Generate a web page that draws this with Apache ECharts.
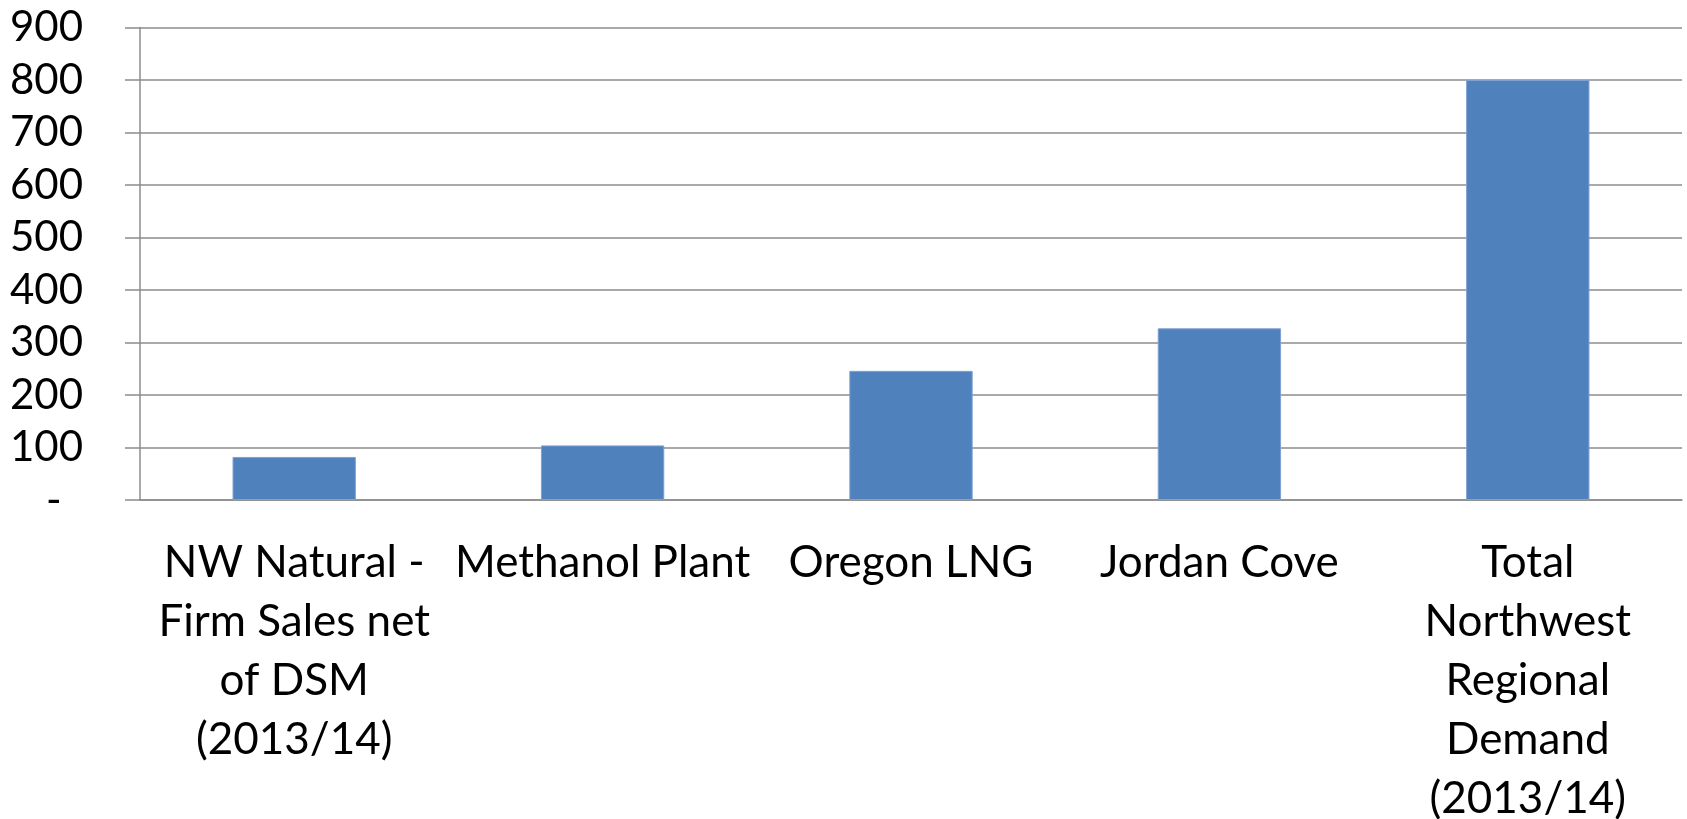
<!DOCTYPE html>
<html>
<head>
<meta charset="utf-8">
<script src="https://cdn.jsdelivr.net/npm/echarts@6/dist/echarts.min.js"></script>
<style>
  html, body { margin: 0; padding: 0; background: #fff; }
  #chart { width: 1687px; height: 819px; }
</style>
</head>
<body>
<div id="chart"></div>
<script>
var categories = [
  'NW Natural -\nFirm Sales net\nof DSM\n(2013/14)',
  'Methanol Plant',
  'Oregon LNG',
  'Jordan Cove',
  'Total\nNorthwest\nRegional\nDemand\n(2013/14)'
];
var demand = [82, 104, 246, 327, 800];

var axisGray = '#8c8c8c';
var chart = echarts.init(document.getElementById('chart'));
var option = {
  animation: false,
  textStyle: { fontFamily: 'Lato' },
  grid: { left: 140, right: 5, top: 27.5, bottom: 319, outerBoundsMode: 'none', containLabel: false },
  xAxis: {
    type: 'category',
    data: categories,
    axisLine: { lineStyle: { color: axisGray, width: 1.5 } },
    axisTick: { length: 15, lineStyle: { color: axisGray, width: 1.5 } },
    axisLabel: {
      color: '#000', fontSize: 44, lineHeight: 59, margin: 33, interval: 0,
      fontFamily: 'Lato', align: 'center'
    }
  },
  yAxis: {
    type: 'value',
    min: 0, max: 900, interval: 100,
    axisLine: { show: true, lineStyle: { color: axisGray, width: 1.5 } },
    axisTick: { show: true, length: 15, lineStyle: { color: axisGray, width: 1.5 } },
    splitLine: { lineStyle: { color: axisGray, width: 1.5 } },
    axisLabel: {
      color: '#000', fontSize: 42, margin: 57, fontFamily: 'Lato',
      formatter: function (v) { return v === 0 ? '-  ' : String(v); }
    }
  },
  series: [{
    type: 'bar',
    data: demand,
    barWidth: '40%',
    itemStyle: { color: '#4f81bd', borderColor: '#7fa2d2', borderWidth: 1 }
  }]
};
chart.setOption(option);
</script>
</body>
</html>
